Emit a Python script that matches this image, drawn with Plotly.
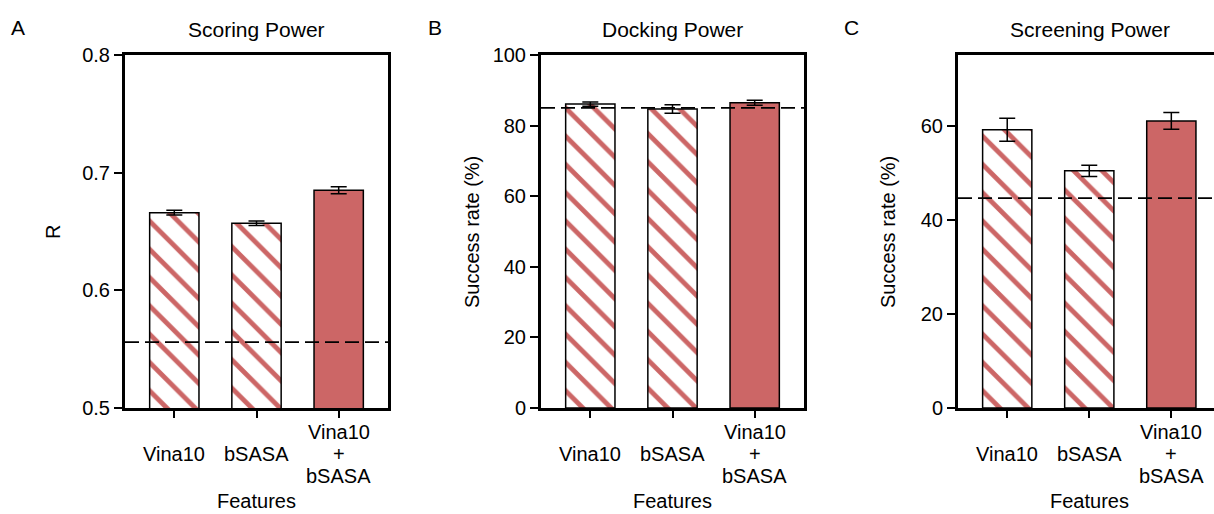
import plotly.graph_objects as go

W, H = 1214, 514

categories = ["Vina10", "bSASA", "Vina10\n+\nbSASA"]
hatched = [True, True, False]

scoring_r = [0.666, 0.657, 0.685]
scoring_err = [0.002, 0.002, 0.003]
scoring_baseline = 0.556

docking_rate = [86.1, 84.7, 86.5]
docking_err = [0.6, 1.2, 0.7]
docking_baseline = 85.0

screening_rate = [59.1, 50.4, 61.0]
screening_err = [2.45, 1.2, 1.8]
screening_baseline = 44.6

panels = [
    dict(letter="A", title="Scoring Power", ytitle="R", y=scoring_r, err=scoring_err,
         base=scoring_baseline, yrange=[0.5, 0.8], tickvals=[0.5, 0.6, 0.7, 0.8],
         ticktext=["0.5", "0.6", "0.7", "0.8"], x0=125, x1=388, xr=[-0.6, 2.6],
         letter_x=18, ytitle_x=53, right=True),
    dict(letter="B", title="Docking Power", ytitle="Success rate (%)", y=docking_rate, err=docking_err,
         base=docking_baseline, yrange=[0, 100], tickvals=[0, 20, 40, 60, 80, 100],
         ticktext=["0", "20", "40", "60", "80", "100"], x0=541, x1=804, xr=[-0.6, 2.6],
         letter_x=435, ytitle_x=472, right=True),
    dict(letter="C", title="Screening Power", ytitle="Success rate (%)", y=screening_rate, err=screening_err,
         base=screening_baseline, yrange=[0, 75], tickvals=[0, 20, 40, 60],
         ticktext=["0", "20", "40", "60"], x0=958, x1=1214, xr=[-0.6, 2.52],
         letter_x=851, ytitle_x=888, right=False),
]

RED = "#CC6666"
FONT = "Liberation Sans, Arial, sans-serif"
TOP, BOT = 55, 408

def py(px):
    return 1 - px / H

fig = go.Figure()
annotations = []
shapes = []
cat_keys = [c.replace("\n", " ") for c in categories]

for i, p in enumerate(panels):
    n = "" if i == 0 else str(i + 1)
    xa, ya = "x" + n, "y" + n
    fig.add_trace(go.Bar(
        x=cat_keys, y=p["y"], xaxis=xa, yaxis=ya, width=0.6,
        marker=dict(color=RED, line=dict(color="black", width=1.5),
                    pattern=dict(shape=["\\" if h else "" for h in hatched],
                                 fgcolor=RED, bgcolor="white", size=20, solidity=0.24,
                                 fillmode="replace")),
        error_y=dict(type="data", array=p["err"], color="black", thickness=1.5, width=8),
        hoverinfo="skip",
    ))
    axis_x = dict(domain=[p["x0"] / W, p["x1"] / W], range=p["xr"], type="category",
                  showline=True, linewidth=3, linecolor="black", mirror=True,
                  ticks="outside", ticklen=7, tickwidth=2, tickcolor="black",
                  showticklabels=False, showgrid=False, zeroline=False, anchor=ya,
                  fixedrange=True, automargin=False)
    axis_y = dict(domain=[py(BOT), py(TOP)], range=p["yrange"], tickvals=p["tickvals"],
                  ticktext=p["ticktext"], showline=True, linewidth=3, linecolor="black",
                  mirror=p["right"], ticks="outside", ticklen=8, tickwidth=2, tickcolor="black",
                  showgrid=False, zeroline=False, anchor=xa, automargin=False,
                  tickfont=dict(family=FONT, size=20, color="black"), fixedrange=True)
    fig.update_layout(**{"xaxis" + n: axis_x, "yaxis" + n: axis_y})

    shapes.append(dict(type="line", xref=xa + " domain", yref=ya, x0=0, x1=1,
                       y0=p["base"], y1=p["base"], line=dict(color="black", width=1.8, dash="14px,6px")))

    cx = (p["x0"] + (p["x1"] if p["right"] else p["x0"] + 263)) / 2
    annotations.append(dict(text=p["title"], x=cx / W, y=py(29), xref="paper", yref="paper",
                            showarrow=False, xanchor="center", yanchor="middle",
                            font=dict(family=FONT, size=21, color="black")))
    annotations.append(dict(text=p["letter"], x=p["letter_x"] / W, y=py(27), xref="paper", yref="paper",
                            showarrow=False, xanchor="center", yanchor="middle",
                            font=dict(family=FONT, size=21, color="black")))
    annotations.append(dict(text=p["ytitle"], x=p["ytitle_x"] / W, y=py(232), xref="paper", yref="paper",
                            showarrow=False, xanchor="center", yanchor="middle", textangle=-90,
                            font=dict(family=FONT, size=20, color="black")))
    annotations.append(dict(text="Features", x=cx / W, y=0, xref="paper", yref="paper",
                            showarrow=False, xanchor="center", yanchor="bottom",
                            font=dict(family=FONT, size=20, color="black")))
    for key, cat in zip(cat_keys, categories):
        lines = cat.split("\n")
        m = len(lines)
        for j, ln in enumerate(lines):
            ypx = 454 + (j - (m - 1) / 2) * 22
            annotations.append(dict(text=ln, x=key, xref=xa, y=py(ypx), yref="paper",
                                    showarrow=False, xanchor="center", yanchor="middle",
                                    font=dict(family=FONT, size=20, color="black")))

fig.update_layout(width=W, height=H, margin=dict(l=0, r=0, t=0, b=0, pad=0, autoexpand=False),
                  paper_bgcolor="white", plot_bgcolor="white", showlegend=False,
                  annotations=annotations, shapes=shapes,
                  font=dict(family=FONT, size=20, color="black"))

fig.write_html("out.html", config={"displayModeBar": False},
               post_script="document.body.style.margin='0';document.body.style.padding='0';document.body.style.overflow='hidden';")
